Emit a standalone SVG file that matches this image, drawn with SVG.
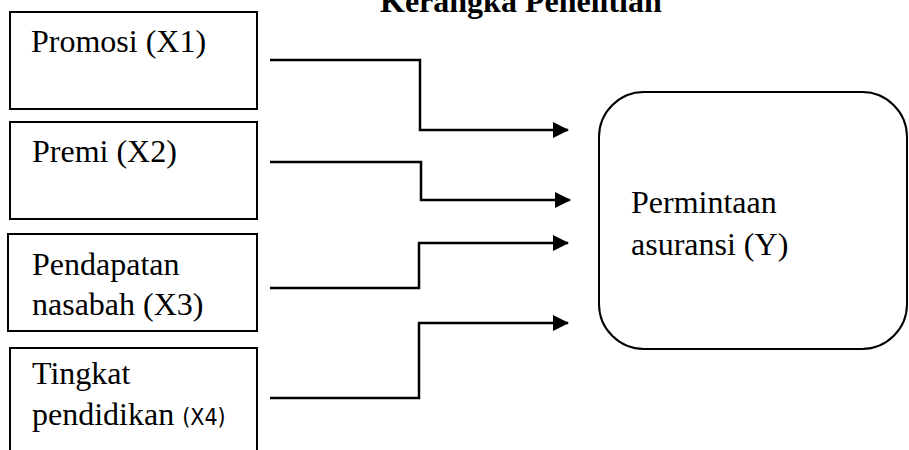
<svg xmlns="http://www.w3.org/2000/svg" width="909" height="450" viewBox="0 0 909 450">
<style>
.box{fill:#fff;stroke:#000;stroke-width:2}
.t{font-family:"Liberation Serif","Times New Roman",serif;font-size:32px;fill:#000}
.s{font-family:"DejaVu Sans Condensed","DejaVu Sans","Liberation Sans",Arial,sans-serif;font-size:23px}
.c{fill:none;stroke:#000;stroke-width:2.5}
</style>
<defs>
<marker id="ah" markerWidth="16" markerHeight="16" refX="15" refY="8" orient="auto" markerUnits="userSpaceOnUse">
<path d="M0,0 L16,8 L0,16 Z" fill="#000"/>
</marker>
</defs>
<rect width="909" height="450" fill="#fff"/>
<text x="380" y="12" class="t" font-weight="bold">Kerangka Penelitian</text>
<g id="x1">
<rect class="box" x="10" y="12" width="247" height="97"/>
<text class="t" x="31" y="52">Promosi (X1)</text>
</g>
<g id="x2">
<rect class="box" x="10" y="122" width="247" height="97"/>
<text class="t" x="32" y="162">Premi (X2)</text>
</g>
<g id="x3">
<rect class="box" x="8" y="234" width="249" height="97"/>
<text class="t" x="32" y="275">Pendapatan</text>
<text class="t" x="32" y="315">nasabah (X3)</text>
</g>
<g id="x4">
<rect class="box" x="10" y="348" width="247" height="120"/>
<text class="t" x="32" y="384">Tingkat</text>
<text class="t" x="32" y="425">pendidikan <tspan class="s">(X4)</tspan></text>
</g>
<g id="y">
<rect class="box" x="599" y="92" width="308" height="257" rx="45" ry="45"/>
<text class="t" x="631" y="213">Permintaan</text>
<text class="t" x="631" y="255">asuransi (Y)</text>
</g>
<g id="connectors">
<path class="c" d="M270,60 H420 V130 H568" marker-end="url(#ah)"/>
<path class="c" d="M270,162 H421 V200 H570" marker-end="url(#ah)"/>
<path class="c" d="M270,288 H419 V243 H568" marker-end="url(#ah)"/>
<path class="c" d="M270,398 H419 V323 H568" marker-end="url(#ah)"/>
</g>
</svg>
